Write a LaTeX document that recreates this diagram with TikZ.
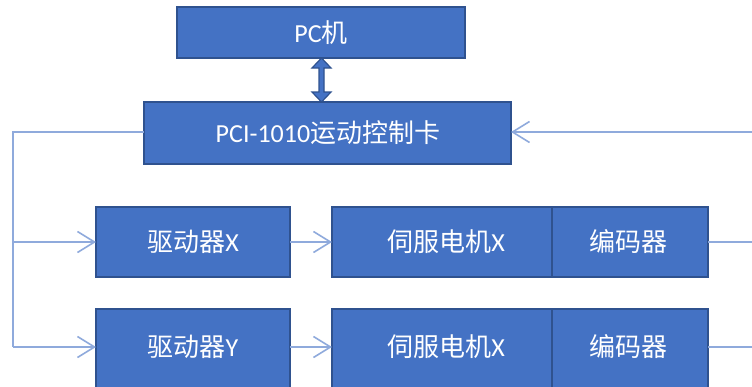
\documentclass[tikz,border=0pt]{standalone}
\usepackage{fontspec}
\setmainfont{Carlito}
\newfontfamily\cjk{Noto Sans CJK SC}
\usetikzlibrary{arrows.meta,positioning,calc}
\definecolor{boxfill}{HTML}{4472C4}
\definecolor{boxline}{HTML}{2F528F}
\definecolor{conn}{HTML}{8FAADC}
\begin{document}
\begin{tikzpicture}[x=1pt,y=-1pt,
  blk/.style={draw=boxline,fill=boxfill,line width=1.8pt},
  lbl/.style={text=white,font=\fontsize{26}{30}\selectfont,inner sep=0pt},
  conline/.style={draw=conn,line width=1.7pt},
  arr/.style={conline,-{Straight Barb[length=17pt,width=21pt,line width=1.6pt]}}]
\useasboundingbox (0,0) rectangle (752,386);
\clip (0,0) rectangle (752,386);
\fill[white] (0,0) rectangle (752,386);
% boxes
\draw[blk] (177,7) rectangle (465,58);
\node[lbl] (pc) at (321,33) {PC{\cjk 机}};
\draw[blk] (144,102) rectangle (511,164);
\node[lbl] (pci) at (328,133) {PCI-1010{\cjk 运动控制卡}};
\coordinate (pciL) at (144,132);
\coordinate (pciR) at (511,132);
\draw[blk] (96,207) rectangle (290,277);
\node[lbl] (dx) at (193,242) {{\cjk 驱动器}X};
\draw[blk] (96,309) rectangle (290,395);
\node[lbl] (dy) at (193,347) {{\cjk 驱动器}Y};
\draw[blk] (332,207) rectangle (552,277);
\draw[blk] (552,207) rectangle (708,277);
\node[lbl] (sx) at (446,242) {{\cjk 伺服电机}X};
\node[lbl] (ex) at (628,242) {\cjk 编码器};
\draw[blk] (332,309) rectangle (552,395);
\draw[blk] (552,309) rectangle (708,395);
\node[lbl] (sy) at (446,347) {{\cjk 伺服电机}X};
\node[lbl] (ey) at (628,347) {\cjk 编码器};
% connection points
\coordinate (dxL) at (96,242);
\coordinate (dxR) at (290,242);
\coordinate (dyL) at (96,347);
\coordinate (dyR) at (290,347);
\coordinate (sxL) at (332,242);
\coordinate (syL) at (332,347);
\coordinate (exR) at (708,242);
\coordinate (eyR) at (708,347);
\coordinate (lft) at (13,132);
\coordinate (lbr) at (13,242);
\coordinate (lbt) at (13,347);
\coordinate (rtop) at (753,132);
\coordinate (r1) at (753,242);
\coordinate (r2) at (753,347);
% connectors
\draw[conline] (pciL) -- (lft) -- (lbt);
\draw[arr] (lbt) -- (dyL);
\draw[arr] (lbr) -- (dxL);
\draw[arr] (dxR) -- (sxL);
\draw[arr] (dyR) -- (syL);
\draw[conline] (exR) -- (r1);
\draw[conline] (eyR) -- (r2);
\draw[arr] (rtop) -- (pciR);
% double block arrow
\draw[fill=boxfill,draw=boxline,line width=1.2pt]
  (321.5,58) -- (331,68) -- (324,68) -- (324,92) -- (331,92) -- (321.5,102)
  -- (312,92) -- (319,92) -- (319,68) -- (312,68) -- cycle;
\end{tikzpicture}
\end{document}
